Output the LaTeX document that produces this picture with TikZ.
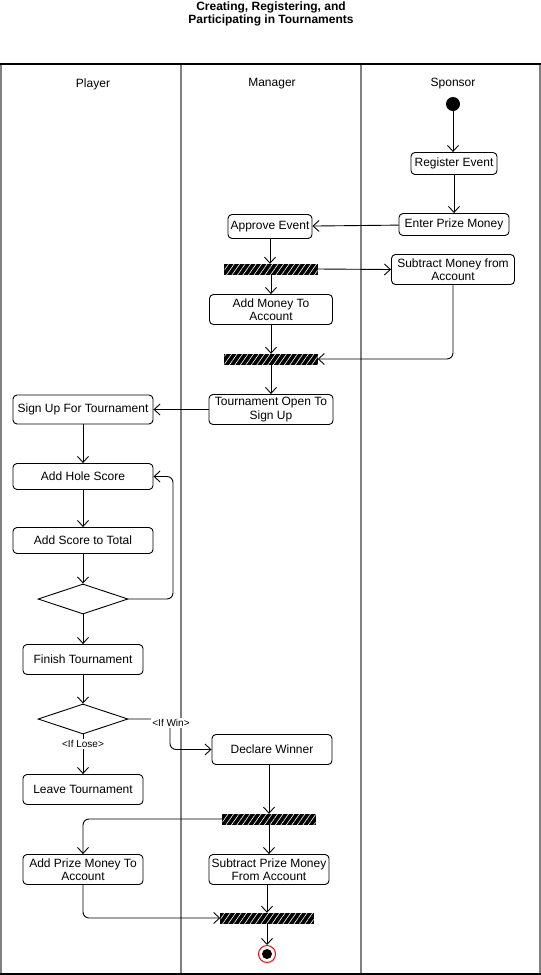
\documentclass[tikz,border=0pt]{standalone}
\usepackage{fontspec}
\setmainfont{Liberation Sans}
\usetikzlibrary{arrows.meta,patterns.meta,shapes.geometric}
\newcommand{\labfont}{\fontsize{12}{13.5}\selectfont}
\newcommand{\smallfont}{\fontsize{10}{12}\selectfont}
\definecolor{lanegray}{HTML}{808080}
\definecolor{endred}{HTML}{FF0000}
\tikzset{
  act/.style={draw, line width=0.9pt, rounded corners=4pt, align=center,
    inner sep=0pt, font=\labfont, fill=white},
  syncbar/.style={draw, fill=black, inner sep=0pt, minimum width=93pt,
    minimum height=10pt,
    postaction={pattern={Lines[angle=55,distance=4.5pt,line width=0.6pt]},
      pattern color=white}},
  decision/.style={draw, line width=0.9pt, diamond, aspect=3, inner sep=0pt,
    minimum width=90pt, minimum height=30pt},
  flow/.style={line width=0.9pt, rounded corners=6pt,
    -{Straight Barb[length=6pt,width=11pt,line width=0.9pt]}},
  guard/.style={fill=white, inner sep=1pt, font=\smallfont},
  lanehead/.style={font=\labfont},
}
\begin{document}
\begin{tikzpicture}[x=1pt,y=-1pt]
\useasboundingbox (0,0) rectangle (541,975);

% title
\node[font=\bfseries\labfont, align=center] (title) at (271,14)
  {Creating, Registering, and\\Participating in Tournaments};

% swimlanes
\draw[lanegray, line width=2pt] (1,64) -- (1,974);
\draw[lanegray, line width=2pt] (181,64) -- (181,974);
\draw[lanegray, line width=2pt] (361,64) -- (361,974);
\draw[lanegray, line width=2pt] (540,64) -- (540,974);
\draw[line width=1.5pt] (0,64) -- (541,64);
\draw[line width=1.5pt] (0,974) -- (541,974);
\node[lanehead] (lplayer) at (93,84) {Player};
\node[lanehead] (lmanager) at (272,84) {Manager};
\node[lanehead] (lsponsor) at (453,84) {Sponsor};

% sponsor lane
\node[circle, fill=black, inner sep=0pt, minimum size=14pt] (start) at (453,104) {};
\node[act, minimum width=86pt, minimum height=22pt] (reg) at (454,163.5) {Register Event};
\node[act, minimum width=110pt, minimum height=22pt] (prize) at (454,224.5) {Enter Prize Money};
\node[act, minimum width=123pt, minimum height=30pt] (submoney) at (453,269.5) {Subtract Money from\\Account};

% manager lane
\node[act, minimum width=84pt, minimum height=24pt] (approve) at (270,226.5) {Approve Event};
\node[syncbar] (fork1) at (271,269) {};
\node[act, minimum width=123pt, minimum height=30pt] (addmoney) at (271,309.5) {Add Money To\\Account};
\node[syncbar] (join1) at (271,359) {};
\node[act, minimum width=124pt, minimum height=30pt] (open) at (271,409.5) {Tournament Open To\\Sign Up};
\node[act, minimum width=120pt, minimum height=30pt] (winner) at (272,749.5) {Declare Winner};
\node[syncbar] (fork2) at (269,819) {};
\node[act, minimum width=120pt, minimum height=30pt] (subprize) at (269,869.5) {Subtract Prize Money\\From Account};
\node[syncbar] (join2) at (267,918) {};
\node[circle, draw=endred, line width=1pt, fill=white, inner sep=0pt, minimum size=17pt] (finish) at (267,954) {};
\node[circle, fill=black, inner sep=0pt, minimum size=10pt] (finishdot) at (267,954) {};

% player lane
\node[act, minimum width=140pt, minimum height=29pt] (signup) at (83,409.5) {Sign Up For Tournament};
\node[act, minimum width=140pt, minimum height=26pt] (hole) at (83,476.5) {Add Hole Score};
\node[act, minimum width=140pt, minimum height=26pt] (total) at (83,540.5) {Add Score to Total};
\node[decision] (more) at (83,599) {};
\node[act, minimum width=120pt, minimum height=30pt] (done) at (83,659.5) {Finish Tournament};
\node[decision] (result) at (83,719) {};
\node[act, minimum width=120pt, minimum height=30pt] (leave) at (83,789.5) {Leave Tournament};
\node[act, minimum width=120pt, minimum height=30pt] (addprize) at (83,869.5) {Add Prize Money To\\Account};

% flows
\draw[flow] (start) -- (start |- reg.north);
\draw[flow] (reg) -- (prize);
\draw[flow] (prize) -- (approve);
\draw[flow] (approve.south) -- (approve.south |- fork1.north);
\draw[flow] (fork1.east) -- (submoney.west);
\draw[flow] (fork1) -- (addmoney.north -| fork1);
\draw[flow] (addmoney.south) -- (addmoney.south |- join1.north);
\draw[flow] (submoney.south) -- (submoney.south |- join1.east) -- (join1.east);
\draw[flow] (join1) -- (open.north -| join1);
\draw[flow] (open) -- (signup);
\draw[flow] (signup) -- (hole);
\draw[flow] (hole) -- (total);
\draw[flow] (total) -- (more);
\draw[flow] (more.east) -- (173,599) -- (173,476.5) -- (hole.east);
\draw[flow] (more) -- (done);
\draw[flow] (done) -- (result);
\draw[flow] (result) -- (leave);
\draw[flow] (result.east) -- (170,719) -- (170,749.5) -- (winner.west);
\node[guard] (lose) at (83,744) {<If Lose>};
\node[guard] (win) at (171,723) {<If Win>};
\draw[flow] (winner.south -| fork2) -- (fork2.north);
\draw[flow] (fork2.west) -- (83,819) -- (addprize.north);
\draw[flow] (fork2) -- (subprize.north -| fork2);
\draw[flow] (subprize.south -| join2) -- (join2.north);
\draw[flow] (addprize.south) -- (83,918) -- (join2.west);
\draw[flow] (join2) -- (finish);
\end{tikzpicture}
\end{document}
